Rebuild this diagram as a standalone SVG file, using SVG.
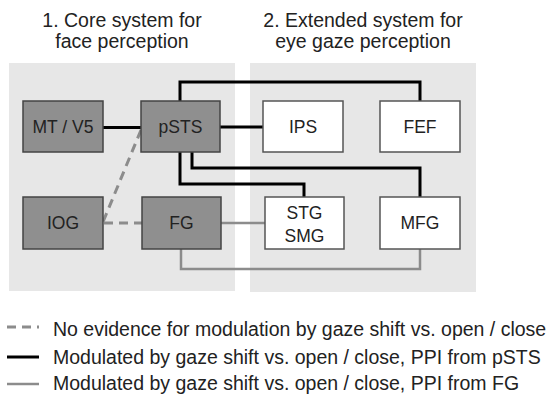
<svg xmlns="http://www.w3.org/2000/svg" width="551" height="394" viewBox="0 0 551 394">
<style>
text{font-family:"Liberation Sans",Arial,sans-serif;fill:#222}
.t{font-size:19.5px;text-anchor:middle}
.n{font-size:17.5px;text-anchor:middle}
.l{font-size:19.5px}
.panel{fill:#e7e7e7}
.core{fill:#8f8f8f;stroke:#444;stroke-width:1.5}
.ext{fill:#fff;stroke:#555;stroke-width:1.5}
.blk{fill:none;stroke:#000;stroke-width:3}
.gry{fill:none;stroke:#8c8c8c;stroke-width:2.5}
.dsh{fill:none;stroke:#8c8c8c;stroke-width:3;stroke-dasharray:9 6}
</style>
<rect width="551" height="394" fill="#fff"/>
<text class="t" x="122" y="27">1. Core system for</text>
<text class="t" x="122" y="48">face perception</text>
<text class="t" x="363" y="27">2. Extended system for</text>
<text class="t" x="363" y="48">eye gaze perception</text>
<rect class="panel" x="9" y="63" width="226" height="228"/>
<rect class="panel" x="250" y="63" width="226" height="229"/>
<g id="connectors">
<path class="blk" d="M103 127.5H141"/>
<path class="blk" d="M220 127H263"/>
<path class="blk" d="M180 101V82H420V101"/>
<path class="blk" d="M192 152V168H420V197"/>
<path class="blk" d="M180 152V184H304V197"/>
<path class="gry" d="M221 223H265"/>
<path class="gry" d="M181 249V269H420V249"/>
<path class="dsh" d="M141 130L103 222"/>
<path class="dsh" d="M104 223H142"/>
</g>
<g id="MT_V5"><rect class="core" x="23" y="101" width="80" height="51"/><text class="n" x="63" y="133">MT / V5</text></g>
<g id="pSTS"><rect class="core" x="141" y="101" width="79" height="51"/><text class="n" x="180.5" y="133">pSTS</text></g>
<g id="IOG"><rect class="core" x="23" y="197" width="80" height="52"/><text class="n" x="63" y="229">IOG</text></g>
<g id="FG"><rect class="core" x="142" y="197" width="79" height="52"/><text class="n" x="181.5" y="229">FG</text></g>
<g id="IPS"><rect class="ext" x="263" y="101" width="80" height="51"/><text class="n" x="303" y="133">IPS</text></g>
<g id="FEF"><rect class="ext" x="380" y="101" width="80" height="51"/><text class="n" x="420" y="133">FEF</text></g>
<g id="STG_SMG"><rect class="ext" x="265" y="197" width="79" height="52"/><text class="n" x="304.5" y="219">STG</text><text class="n" x="304.5" y="241.5">SMG</text></g>
<g id="MFG"><rect class="ext" x="380" y="197" width="80" height="52"/><text class="n" x="420" y="229">MFG</text></g>
<g id="legend">
<path class="dsh" d="M7 327H39"/>
<path class="blk" d="M7 357H39"/>
<path class="gry" d="M7 384H39"/>
<text class="l" x="53" y="336">No evidence for modulation by gaze shift vs. open / close</text>
<text class="l" x="53" y="364">Modulated by gaze shift vs. open / close, PPI from pSTS</text>
<text class="l" x="53" y="389.5">Modulated by gaze shift vs. open / close, PPI from FG</text>
</g>
</svg>
